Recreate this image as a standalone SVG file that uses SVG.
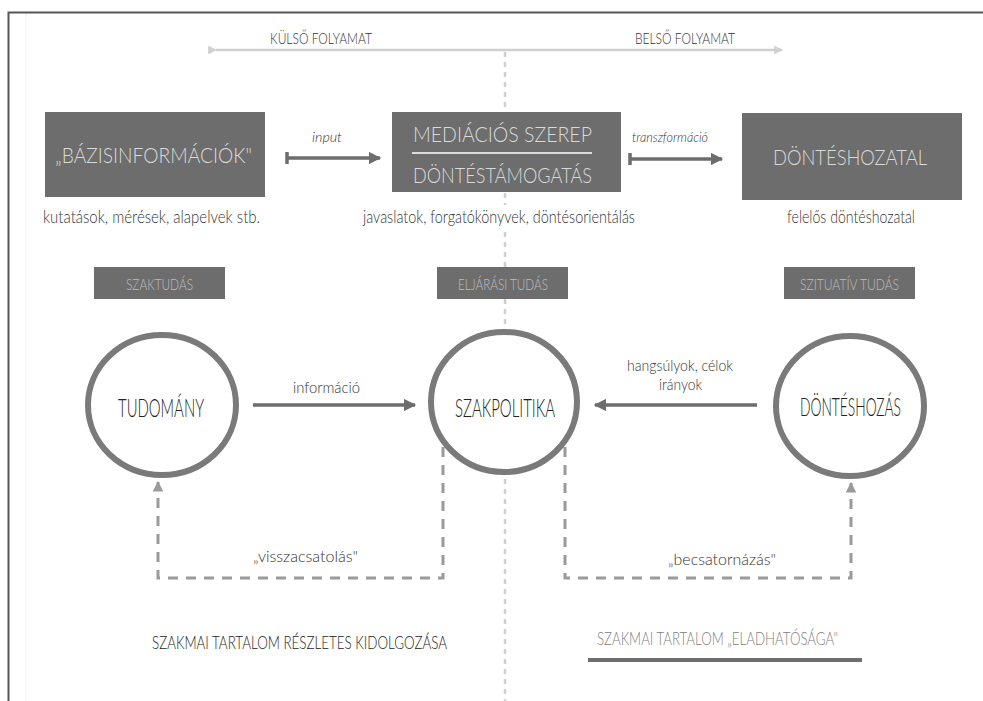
<svg xmlns="http://www.w3.org/2000/svg" width="983" height="701" viewBox="0 0 983 701">
<defs>
<style>
text{font-family:Lato,Roboto,"DejaVu Sans Condensed",sans-serif;font-weight:300;}
.box{fill:#6d6d6d;}
.boxt{fill:#dadada;font-size:21px;}
.tag{fill:#6d6d6d;}
.tagt{fill:#bdbdbd;font-size:15px;}
.cap{fill:#333;font-size:17px;}
.ring{fill:none;stroke:#7a7a7a;stroke-width:6;}
.ringt{fill:#222;font-size:26px;}
.lbl{fill:#333;font-size:16px;}
.it{fill:#333;font-size:13px;font-style:italic;}
.solid{stroke:#6d6d6d;stroke-width:3.5;fill:none;}
.dash{stroke:#9a9a9a;stroke-width:3;fill:none;stroke-dasharray:10 8;}
.dot{stroke:#cfcfcf;stroke-width:2.5;fill:none;stroke-dasharray:5 5;}
.top{stroke:#d0d0d0;stroke-width:2.5;fill:none;}
</style>
<marker id="ah" viewBox="0 0 10 10" refX="9" refY="5" markerWidth="4.5" markerHeight="3.5" orient="auto" markerUnits="strokeWidth"><path d="M0,0L10,5L0,10z" fill="#6d6d6d"/></marker>
<marker id="ahd" viewBox="0 0 10 10" refX="9" refY="5" markerWidth="4.5" markerHeight="3.5" orient="auto" markerUnits="strokeWidth"><path d="M0,0L10,5L0,10z" fill="#9a9a9a"/></marker>
<marker id="aht" viewBox="0 0 10 10" refX="9" refY="5" markerWidth="4.5" markerHeight="3.5" orient="auto" markerUnits="strokeWidth"><path d="M0,0L10,5L0,10z" fill="#d0d0d0"/></marker>
</defs>
<rect width="983" height="701" fill="#fff"/>
<g id="frame">
<line x1="26" y1="13" x2="26" y2="701" stroke="#f1f1f1" stroke-width="1"/>
<path d="M8.5,701V12.5H983" fill="none" stroke="#555" stroke-width="2"/>
</g>
<g id="connectors">
<path class="top" d="M216,50H782" marker-start="url(#aht)" marker-end="url(#aht)"/>
<path class="dot" d="M505,52V111M505,193V205M505,232V267M505,299V330M505,479V701"/>
<path class="solid" d="M287,152v12M287,158H380" marker-end="url(#ah)"/>
<path class="solid" d="M630,153v12M630,159H722" marker-end="url(#ah)"/>
<path class="solid" d="M253,405H415" marker-end="url(#ah)"/>
<path class="solid" d="M757,405H595" marker-end="url(#ah)"/>
<path class="dash" d="M443,447V578H158V482" marker-end="url(#ahd)"/>
<path class="dash" d="M565,447V578H851V483" marker-end="url(#ahd)"/>
<line x1="588" y1="660" x2="862" y2="660" stroke="#6d6d6d" stroke-width="4"/>
</g>
<g id="labels">
<text x="270" y="44" font-size="16" fill="#333" textLength="102" lengthAdjust="spacingAndGlyphs">KÜLSŐ FOLYAMAT</text>
<text x="635" y="44" font-size="16" fill="#333" textLength="100" lengthAdjust="spacingAndGlyphs">BELSŐ FOLYAMAT</text>
<text class="it" x="312" y="142" textLength="30" lengthAdjust="spacingAndGlyphs">input</text>
<text class="it" x="632" y="142" textLength="76" lengthAdjust="spacingAndGlyphs">transzformáció</text>
<text class="lbl" x="293" y="393" textLength="67" lengthAdjust="spacingAndGlyphs">információ</text>
<text class="lbl" x="627" y="371" textLength="106" lengthAdjust="spacingAndGlyphs">hangsúlyok, célok</text>
<text class="lbl" x="659" y="390" textLength="43" lengthAdjust="spacingAndGlyphs">irányok</text>
<text class="lbl" x="253" y="562" textLength="105" lengthAdjust="spacingAndGlyphs">„visszacsatolás"</text>
<text class="lbl" x="668" y="565" textLength="108" lengthAdjust="spacingAndGlyphs">„becsatornázás"</text>
<text x="152" y="649" font-size="17" fill="#222" textLength="295" lengthAdjust="spacingAndGlyphs">SZAKMAI TARTALOM RÉSZLETES KIDOLGOZÁSA</text>
<text x="597" y="645" font-size="17" fill="#808080" textLength="241" lengthAdjust="spacingAndGlyphs">SZAKMAI TARTALOM „ELADHATÓSÁGA"</text>
</g>
<g id="bazis">
<rect class="box" x="45" y="112" width="220" height="85"/>
<text class="boxt" x="55" y="163" textLength="197" lengthAdjust="spacingAndGlyphs">„BÁZISINFORMÁCIÓK"</text>
<text class="cap" x="43" y="223" textLength="217" lengthAdjust="spacingAndGlyphs">kutatások, mérések, alapelvek stb.</text>
</g>
<g id="mediacio">
<rect class="box" x="392" y="112" width="229" height="80"/>
<text class="boxt" x="413" y="142" font-size="22" textLength="179" lengthAdjust="spacingAndGlyphs">MEDIÁCIÓS SZEREP</text>
<line x1="412" y1="153" x2="592" y2="153" stroke="#dcdcdc" stroke-width="2"/>
<text class="boxt" x="413" y="183" font-size="22" textLength="179" lengthAdjust="spacingAndGlyphs">DÖNTÉSTÁMOGATÁS</text>
<text class="cap" x="363" y="223" textLength="272" lengthAdjust="spacingAndGlyphs">javaslatok, forgatókönyvek, döntésorientálás</text>
</g>
<g id="donteshozatal">
<rect class="box" x="742" y="113" width="220" height="87"/>
<text class="boxt" x="773" y="165" textLength="154" lengthAdjust="spacingAndGlyphs">DÖNTÉSHOZATAL</text>
<text class="cap" x="787" y="223" textLength="128" lengthAdjust="spacingAndGlyphs">felelős döntéshozatal</text>
</g>
<g id="szaktudas">
<rect class="tag" x="94" y="267" width="131" height="32"/>
<text class="tagt" x="126" y="290" textLength="67" lengthAdjust="spacingAndGlyphs">SZAKTUDÁS</text>
</g>
<g id="eljarasi">
<rect class="tag" x="437" y="267" width="131" height="32"/>
<text class="tagt" x="458" y="290" textLength="90" lengthAdjust="spacingAndGlyphs">ELJÁRÁSI TUDÁS</text>
</g>
<g id="szituativ">
<rect class="tag" x="784" y="267" width="131" height="32"/>
<text class="tagt" x="800" y="290" textLength="99" lengthAdjust="spacingAndGlyphs">SZITUATÍV TUDÁS</text>
</g>
<g id="tudomany">
<ellipse class="ring" cx="162" cy="405" rx="74" ry="70"/>
<text class="ringt" x="118" y="417" textLength="86" lengthAdjust="spacingAndGlyphs">TUDOMÁNY</text>
</g>
<g id="szakpolitika">
<ellipse class="ring" cx="504" cy="402" rx="73" ry="70"/>
<text class="ringt" x="455" y="417" textLength="100" lengthAdjust="spacingAndGlyphs">SZAKPOLITIKA</text>
</g>
<g id="donteshozas">
<ellipse class="ring" cx="850" cy="406" rx="74" ry="70"/>
<text class="ringt" x="800" y="416" font-size="25" textLength="101" lengthAdjust="spacingAndGlyphs">DÖNTÉSHOZÁS</text>
</g>
</svg>
